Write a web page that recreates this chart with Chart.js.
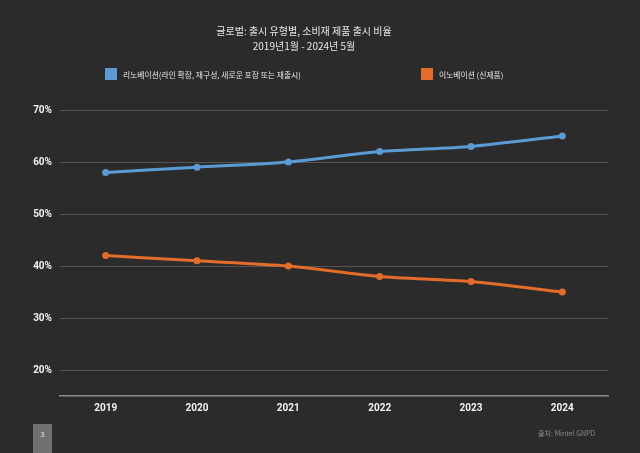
<!DOCTYPE html>
<html>
<head>
<meta charset="utf-8">
<script src="https://cdn.jsdelivr.net/npm/chart.js@4/dist/chart.umd.min.js"></script>
<style>
  html, body { margin: 0; padding: 0; background: #2b2b2b; }
  #wrap { position: relative; width: 640px; height: 453px; overflow: hidden; }
  canvas { display: block; }
  .legend { position: absolute; top: 68px; font: 7.8px "Noto Sans CJK KR", sans-serif; color: #e6e6e6; display: flex; align-items: center; }
  .legend span.box { display: inline-block; width: 12px; height: 12px; margin-right: 6px; }
  #src { position: absolute; left: 538px; top: 428px; font: 7px "Noto Sans CJK KR", sans-serif; color: #8a8a8a; }
  #page { position: absolute; left: 33px; top: 424px; width: 19px; height: 29px; background: #707070; color: #eee; font: 7px "Noto Sans CJK KR", sans-serif; text-align: center; line-height: 20px; }
</style>
</head>
<body>
<div id="wrap">
  <canvas id="c" width="640" height="453"></canvas>
  <div class="legend" id="leg0" style="left:105px;"><span class="box"></span><span class="txt"></span></div>
  <div class="legend" id="leg1" style="left:421px;"><span class="box"></span><span class="txt"></span></div>
  <div id="src">출처: Mintel GNPD</div>
  <div id="page">3</div>
</div>
<script>
const categories = ['2019', '2020', '2021', '2022', '2023', '2024'];
const renovationValues = [58, 59, 60, 62, 63, 65];
const innovationValues = [42, 41, 40, 38, 37, 35];
const seriesLabels = ['리노베이션(라인 확장, 재구성, 새로운 포장 또는 재출시)', '이노베이션 (신제품)'];
const seriesColors = ['#5b9bd5', '#e46c2a'];
const yTicks = [20, 30, 40, 50, 60, 70];
const titleText = '글로벌: 출시 유형별, 소비재 제품 출시 비율';
const subtitleText = '2019년1월 - 2024년 5월';

const datasets = [renovationValues, innovationValues].map((vals, i) => ({
  label: seriesLabels[i],
  data: vals,
  borderColor: seriesColors[i],
  backgroundColor: seriesColors[i],
  borderWidth: 3,
  pointRadius: 3.5,
  pointHoverRadius: 3.5,
  pointBackgroundColor: seriesColors[i],
  pointBorderWidth: 0,
  tension: 0.25
}));

datasets.forEach((d, i) => {
  const el = document.getElementById('leg' + i);
  el.querySelector('.box').style.background = d.borderColor;
  el.querySelector('.txt').textContent = d.label;
});

new Chart(document.getElementById('c'), {
  type: 'line',
  data: { labels: categories, datasets },
  options: {
    responsive: false,
    animation: false,
    layout: { padding: { top: 24.5, right: 32, left: 0, bottom: 0 } },
    plugins: {
      legend: { display: false },
      tooltip: { enabled: false },
      title: {
        display: true, text: titleText, color: '#e6e6e6',
        font: { family: 'Noto Sans CJK KR', size: 10, weight: 'normal', lineHeight: 1.3 },
        padding: { top: 0, bottom: 2 }
      },
      subtitle: {
        display: true, text: subtitleText, color: '#e6e6e6',
        font: { family: 'Noto Sans CJK KR', size: 10, weight: 'normal', lineHeight: 1.3 },
        padding: { top: 0, bottom: 57.5 }
      }
    },
    scales: {
      x: {
        offset: true,
        grid: { display: false, drawTicks: false },
        border: { display: true, color: '#8c8c8c', width: 1.5 },
        ticks: { color: '#f2f2f2', padding: 6, font: { family: 'Roboto', size: 10, weight: 'bold' } },
        afterFit: s => { s.height = 57; }
      },
      y: {
        min: 15, max: 70,
        afterBuildTicks: s => { s.ticks = yTicks.map(v => ({ value: v })); },
        grid: { color: '#555555', lineWidth: 1, drawTicks: false },
        border: { display: false },
        ticks: {
          color: '#f2f2f2', padding: 8,
          font: { family: 'Roboto', size: 10, weight: 'bold' },
          callback: v => v + '%'
        },
        afterFit: s => { s.width = 60; }
      }
    }
  }
});
</script>
</body>
</html>
